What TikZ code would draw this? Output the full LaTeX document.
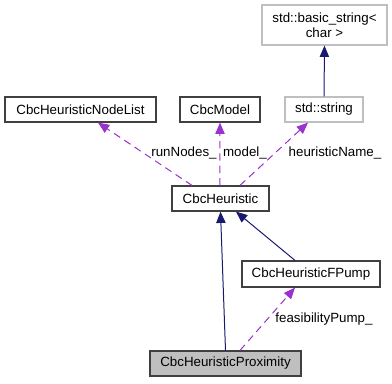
\documentclass[tikz,border=0pt]{standalone}
\usepackage{fontspec}
\setmainfont{Liberation Sans}
\usetikzlibrary{arrows.meta}
\definecolor{EdgeNavy}{RGB}{25,25,112}
\definecolor{EdgePurple}{RGB}{154,50,205}
\definecolor{BoxDark}{RGB}{64,64,64}
\definecolor{BoxLight}{RGB}{191,191,191}
\tikzset{
  cls/.style={draw=BoxDark,fill=white,line width=0.9pt,inner sep=0pt,
    minimum height=18.75pt,font=\fontsize{10}{11.5}\selectfont},
  extcls/.style={cls,draw=BoxLight},
  focus/.style={cls,fill=BoxLight},
  inherit/.style={draw=EdgeNavy,line width=0.75pt,
    -{Triangle[length=8.5pt,width=7pt]}},
  member/.style={draw=EdgePurple,line width=0.75pt,dash pattern=on 5.5pt off 3.75pt,
    -{Triangle[length=8.5pt,width=7pt]}},
  lbl/.style={inner sep=0pt,font=\fontsize{10}{11.5}\selectfont},
}

\begin{document}
\begin{tikzpicture}[x=0.75pt,y=-0.75pt]
        \useasboundingbox (0,0) rectangle (392,383);
        % classes
        \node[extcls,minimum width=93.75pt,minimum height=30pt,align=center] (basic)
          at (324.5,25) {std::basic\_string<\\char >};
        \node[cls,minimum width=113.25pt] (nodelist) at (80.5,109.5) {CbcHeuristicNodeList};
        \node[cls,minimum width=60pt] (model) at (220,109.5) {CbcModel};
        \node[extcls,minimum width=58.5pt] (string) at (324,109.5) {std::string};
        \node[cls,minimum width=72.75pt] (heur) at (220.5,198.5) {CbcHeuristic};
        \node[cls,minimum width=103.5pt,minimum height=19.5pt] (fpump) at (311,274) {CbcHeuristicFPump};
        \node[focus,minimum width=113.25pt] (prox) at (225.5,363.5) {CbcHeuristicProximity};
        % inheritance
        \draw[inherit] (string.north) -- (basic.south);
        \draw[inherit] (prox.north) -- (heur.south);
        \draw[inherit] ([xshift=-12pt]fpump.north) -- ([xshift=11.6pt]heur.south);
        % members
        \draw[member] ([xshift=-21.4pt]heur.north) -- ([xshift=13.1pt]nodelist.south);
        \draw[member] ([xshift=-0.4pt]heur.north) -- (model.south);
        \draw[member] ([xshift=14.6pt]heur.north) -- ([xshift=-12pt]string.south);
        \draw[member] ([xshift=10.9pt]prox.north) -- ([xshift=-12pt]fpump.south);
        \node[lbl] (runnodes) at (184,153) {runNodes\_};
        \node[lbl] (modelvar) at (245,153) {model\_};
        \node[lbl] (hname) at (335,153) {heuristicName\_};
        \node[lbl] (fpvar) at (324,319) {feasibilityPump\_};
\end{tikzpicture}
\end{document}
